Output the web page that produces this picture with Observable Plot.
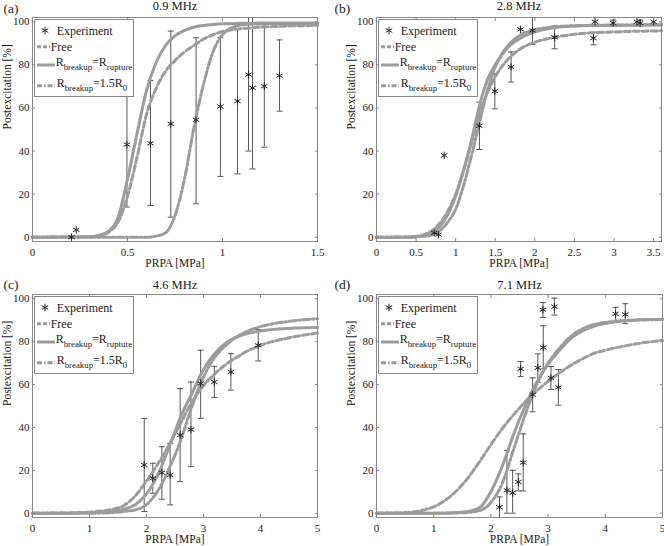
<!DOCTYPE html>
<html><head><meta charset="utf-8">
<script src="https://cdn.jsdelivr.net/npm/d3@7"></script>
<script src="https://cdn.jsdelivr.net/npm/@observablehq/plot@0.6"></script>
<style>
body{margin:0;background:#fff;}
#wrap{position:relative;width:664px;height:546px;display:grid;grid-template-columns:332px 332px;grid-template-rows:273px 273px;font-family:"Liberation Serif","Times New Roman",serif;}
.cell{position:relative;width:332px;height:273px;overflow:hidden;}
.cell > svg{display:block;}
.legend{position:absolute;}
</style></head><body><div id="wrap"></div>
<script>
// ---------- shared ----------
const yTicks = [0, 20, 40, 60, 80, 100];
const legendLabels = ["Experiment", "Free", "Rbreakup=Rrupture", "Rbreakup=1.5R0"];

// ---------- (a) 0.9 MHz ----------
const aXTicks = [0, 0.5, 1, 1.5];
const aCurveX   = [0, 0.3, 0.35, 0.4, 0.45, 0.5, 0.55, 0.6, 0.65, 0.7, 0.75, 0.8, 0.85, 0.9, 0.95, 1.0, 1.1, 1.2, 1.5];
const aFree     = [0, 0.2, 0.7, 2.3, 7, 19, 37, 57, 69, 77, 82, 86, 89, 92, 94, 95.5, 96.8, 97.5, 98.3];
const aRupture  = [0, 0.2, 0.8, 2.8, 9, 27, 48, 68, 81, 89, 93.5, 96, 97.5, 98.3, 98.8, 99.1, 99.3, 99.4, 99.5];
const aBreak15  = [0, 0, 0, 0, 0, 0, 0, 0, 0.5, 2, 10, 27, 51, 71, 86, 94, 98.5, 99, 99.2];
const aExpX  = [0.205, 0.23, 0.497, 0.621, 0.728, 0.861, 0.989, 1.079, 1.137, 1.158, 1.22, 1.3];
const aExpY  = [0, 3.4, 43, 43.6, 52.6, 54.5, 60.7, 63.2, 75.5, 69.3, 70.1, 75];
const aExpLo = [null, null, 14, 14.7, 9.3, 15.5, 28.2, 29.4, 40, 31.7, 41.8, 58.5];
const aExpHi = [null, null, 72, 72.8, 95.7, 92.6, 92.6, 96.7, 111, 107, 99, 91.6];

// ---------- (b) 2.8 MHz ----------
const bXTicks = [0, 0.5, 1, 1.5, 2, 2.5, 3, 3.5];
const bCurveX   = [0, 0.4, 0.5, 0.6, 0.7, 0.8, 0.9, 1.0, 1.1, 1.2, 1.3, 1.4, 1.5, 1.6, 1.7, 1.8, 2.0, 2.2, 2.5, 3.0, 3.6];
const bFree     = [0, 0.1, 0.4, 1.2, 3, 6.5, 12, 20, 31, 44, 57, 67, 74.5, 80, 84, 87, 90.5, 92.5, 94.2, 95.3, 95.8];
const bRupture  = [0, 0, 0.3, 0.8, 2.2, 5, 10.5, 19, 31, 45, 61, 73, 80, 85.5, 89.5, 92, 95.3, 97, 98, 98.4, 98.5];
const bBreak15  = [0, 0, 0.1, 0.4, 1, 3, 7, 13, 24, 38, 53, 68, 79, 86, 90.5, 93.5, 96.3, 97.5, 98.2, 98.5, 98.6];
const bExpX  = [0.729, 0.783, 0.855, 1.30, 1.495, 1.70, 1.82, 1.97, 2.25, 2.74, 2.76, 2.99, 3.29, 3.33, 3.5];
const bExpY  = [2, 1.2, 38, 51.7, 67.8, 79, 96.5, 96, 92.8, 92.4, 100, 99.4, 100, 99.4, 100];
const bExpLo = [null, null, null, 40.7, 59.6, 72, null, 89.5, 87.5, 89.3, null, 98, null, 98, null];
const bExpHi = [null, null, null, 62.7, 75.8, 86, null, 104, 98, 95.2, null, 100.8, null, 100.8, null];

// ---------- (c) 4.6 MHz ----------
const cXTicks = [0, 1, 2, 3, 4, 5];
const cCurveX   = [0, 0.5, 1.0, 1.2, 1.4, 1.6, 1.8, 2.0, 2.2, 2.4, 2.6, 2.8, 3.0, 3.2, 3.4, 3.6, 3.8, 4.0, 4.5, 5.0];
const cFree     = [0, 0.1, 0.5, 1, 1.8, 3.5, 8, 15, 23, 32, 42, 52, 59.5, 65, 69.5, 73, 76, 78.3, 81.8, 84];
const cRupture  = [0, 0, 0.2, 0.4, 0.9, 1.8, 4, 9, 18, 31, 45, 56, 67, 74.5, 79.5, 82.3, 84, 85, 86.2, 86.6];
const cBreak15  = [0, 0, 0, 0.1, 0.3, 0.8, 1.5, 4, 10.5, 21, 34, 50, 63.5, 72.8, 78.5, 82.5, 85.2, 87, 89.5, 90.7];
const cExpX  = [1.96, 2.11, 2.27, 2.415, 2.59, 2.78, 2.95, 3.19, 3.48, 3.96];
const cExpY  = [22.5, 16.3, 18.9, 17.8, 36.4, 39, 60.5, 61.2, 65.9, 78.3];
const cExpLo = [0.8, 9.3, 6.5, 3.9, 14.7, 21.7, 44.2, 54, 57.4, 71];
const cExpHi = [44.2, 23.3, 31, 32.6, 58.1, 61.2, 76, 68.5, 74.4, 85.6];

// ---------- (d) 7.1 MHz ----------
const dXTicks = [0, 1, 2, 3, 4, 5];
const dCurveX   = [0, 0.5, 1.0, 1.2, 1.4, 1.6, 1.8, 2.0, 2.2, 2.4, 2.6, 2.8, 3.0, 3.2, 3.4, 3.6, 3.8, 4.0, 4.5, 5.0];
const dFree     = [0, 0.3, 3, 6, 10.5, 16.5, 24, 32, 39.5, 46, 52, 57, 61.5, 65.5, 69, 72, 74.5, 76, 78.8, 80.6];
const dRupture  = [0, 0, 0, 0.1, 0.3, 0.8, 2.5, 10, 22, 37, 50, 61, 69.5, 76, 81.5, 85, 87.2, 88.5, 90, 90.4];
const dBreak15  = [0, 0, 0, 0, 0.1, 0.4, 1.2, 5, 14, 30, 46, 60, 70, 77, 82.5, 86, 88, 89, 90, 90.3];
const dExpX  = [2.15, 2.28, 2.38, 2.48, 2.565, 2.52, 2.73, 2.82, 2.91, 2.915, 3.05, 3.11, 3.18, 4.18, 4.35];
const dExpY  = [2.8, 10.7, 9.5, 14.6, 23.6, 67.3, 55.3, 67.8, 94.9, 77.3, 63.1, 96.3, 58.7, 93, 92.7];
const dExpLo = [-3, 0, 0, 10.4, 10.4, 63.7, 47.3, 61, 91.3, 67.3, 57.7, 92.4, 50.4, 89, 88.4];
const dExpHi = [7.6, 29.3, 20, 18.4, 37, 70.7, 63.1, 74.3, 98.3, 87.4, 68.4, 100.3, 67, 96, 97.7];

const panels = [
  {tag: "(a)", title: "0.9 MHz", xMax: 1.5, xTicks: aXTicks, cx: aCurveX, free: aFree, rupture: aRupture, b15: aBreak15,
   ex: aExpX, ey: aExpY, lo: aExpLo, hi: aExpHi, m: [17, 15, 32, 32], tagDx: -29, tagDy: -9, titleDy: -11.5},
  {tag: "(b)", title: "2.8 MHz", xMax: 3.6, xTicks: bXTicks, cx: bCurveX, free: bFree, rupture: bRupture, b15: bBreak15,
   ex: bExpX, ey: bExpY, lo: bExpLo, hi: bExpHi, m: [17, 3, 32, 44], tagDx: -42, tagDy: -9, titleDy: -11.5},
  {tag: "(c)", title: "4.6 MHz", xMax: 5, xTicks: cXTicks, cx: cCurveX, free: cFree, rupture: cRupture, b15: cBreak15,
   ex: cExpX, ey: cExpY, lo: cExpLo, hi: cExpHi, m: [21, 15, 29, 32], tagDx: -29, tagDy: -10, titleDy: -9.5},
  {tag: "(d)", title: "7.1 MHz", xMax: 5, xTicks: dXTicks, cx: dCurveX, free: dFree, rupture: dRupture, b15: dBreak15,
   ex: dExpX, ey: dExpY, lo: dExpLo, hi: dExpHi, m: [21, 2, 29, 44], tagDx: -42, tagDy: -10, titleDy: -9.5}
];

const serif = '"Liberation Serif", "Times New Roman", serif';
const textColor = "#1a1a1a";
const curveColor = "#9c9c9c";
const frameColor = "#888";
const barColor = "#444";
const capSymbol = {draw(ctx) { ctx.moveTo(-3, 0); ctx.lineTo(3, 0); }};
const fmt = d => String(d);
const blank = () => "";

function makePanel(p) {
  const line = arr => p.cx.map((x, i) => ({x, y: arr[i]}));
  const pts = p.ex.map((x, i) => ({x, y: p.ey[i], lo: p.lo[i], hi: p.hi[i]}));
  const bars = pts.filter(d => d.lo != null);
  const [mt, mr, mb, ml] = p.m;
  const axisStroke = {stroke: frameColor, label: null, tickFormat: blank, tickSize: 3};
  return Plot.plot({
    width: 332, height: 273,
    marginTop: mt, marginRight: mr, marginBottom: mb, marginLeft: ml,
    style: {fontFamily: serif, fontSize: "11px", color: textColor, background: "transparent", overflow: "visible"},
    x: {domain: [0, p.xMax]},
    y: {domain: [-2, 102]},
    marks: [
      Plot.ruleX(bars, {x: "x", y1: "lo", y2: "hi", stroke: barColor, strokeWidth: 0.9, clip: true}),
      Plot.dot(bars, {x: "x", y: "lo", symbol: capSymbol, fill: "none", stroke: barColor, strokeWidth: 0.9, clip: true}),
      Plot.dot(bars, {x: "x", y: "hi", symbol: capSymbol, fill: "none", stroke: barColor, strokeWidth: 0.9, clip: true}),
      Plot.line(line(p.free), {x: "x", y: "y", stroke: curveColor, strokeWidth: 3, strokeDasharray: "6,3", curve: "monotone-x"}),
      Plot.line(line(p.b15), {x: "x", y: "y", stroke: curveColor, strokeWidth: 3, strokeDasharray: "7,2.5,2,2.5", curve: "monotone-x"}),
      Plot.line(line(p.rupture), {x: "x", y: "y", stroke: curveColor, strokeWidth: 3, curve: "monotone-x"}),
      Plot.dot(pts, {x: "x", y: "y", symbol: "asterisk", r: 3.5, stroke: "#222", strokeWidth: 1}),
      Plot.frame({stroke: frameColor}),
      Plot.axisX({ticks: p.xTicks, anchor: "bottom", ...axisStroke, dy: -3}),
      Plot.axisX({ticks: p.xTicks, anchor: "top", ...axisStroke, dy: 3}),
      Plot.axisY({ticks: yTicks, anchor: "left", ...axisStroke, dx: 3}),
      Plot.axisY({ticks: yTicks, anchor: "right", ...axisStroke, dx: -3}),
      Plot.axisX({ticks: p.xTicks, anchor: "bottom", tickSize: 0, tickPadding: 7, tickFormat: fmt, label: null, fontSize: 11, fontFamily: serif, fill: textColor}),
      Plot.axisY({ticks: yTicks, anchor: "left", tickSize: 0, tickPadding: 3, tickFormat: fmt, label: null, fontSize: 11, fontFamily: serif, fill: textColor}),
      Plot.text(["PRPA [MPa]"], {frameAnchor: "bottom", dy: 22, fontSize: 11.5, lineAnchor: "middle", fontFamily: serif, fill: textColor}),
      Plot.text(["Postexcitation [%]"], {frameAnchor: "left", dx: -25.5, rotate: -90, fontSize: 11.5, lineAnchor: "middle", fontFamily: serif, fill: textColor}),
      Plot.text([p.title], {frameAnchor: "top", dy: p.titleDy, fontSize: 12.5, lineAnchor: "middle", fontFamily: serif, fill: textColor}),
      Plot.text([p.tag], {frameAnchor: "top-left", dx: p.tagDx, dy: p.tagDy, fontSize: 13.5, textAnchor: "start", lineAnchor: "middle", fontFamily: serif, fill: textColor})
    ]
  });
}

function makeLegend(p) {
  const svg = d3.create("svg").attr("class", "legend")
    .attr("width", 100).attr("height", 78)
    .style("left", (p.m[3] + 2) + "px").style("top", (p.m[0] + 2) + "px")
    .attr("font-family", serif).attr("font-size", 12);
  svg.append("rect").attr("x", 0.5).attr("y", 0.5).attr("width", 99).attr("height", 77)
    .attr("fill", "#fff").attr("stroke", frameColor);
  // row 1: experiment marker
  svg.append("path").attr("d", d3.symbol(d3.symbolAsterisk, Math.PI * 3.5 * 3.5)()).attr("transform", "translate(11,11.5)")
    .attr("fill", "none").attr("stroke", "#222").attr("stroke-width", 1);
  svg.append("text").attr("x", 22.7).attr("y", 16).attr("fill", textColor).text(legendLabels[0]);
  // row 2: Free
  svg.append("line").attr("x1", 3).attr("x2", 16).attr("y1", 27.7).attr("y2", 27.7)
    .attr("stroke", curveColor).attr("stroke-width", 3).attr("stroke-dasharray", "4,2");
  svg.append("text").attr("x", 16.7).attr("y", 31.7).attr("fill", textColor).text(legendLabels[1]);
  // row 3
  svg.append("line").attr("x1", 3).attr("x2", 21).attr("y1", 46).attr("y2", 46)
    .attr("stroke", curveColor).attr("stroke-width", 3);
  const t3 = svg.append("text").attr("x", 21.7).attr("y", 46.7).attr("fill", textColor);
  t3.append("tspan").text("R");
  t3.append("tspan").attr("dy", 4.3).attr("font-size", 8.8).text("breakup");
  t3.append("tspan").attr("dy", -4.3).text("=R");
  t3.append("tspan").attr("dy", 4.3).attr("font-size", 8.8).text("rupture");
  // row 4
  svg.append("line").attr("x1", 3).attr("x2", 21).attr("y1", 66.7).attr("y2", 66.7)
    .attr("stroke", curveColor).attr("stroke-width", 3).attr("stroke-dasharray", "5,2,1.5,2");
  const t4 = svg.append("text").attr("x", 22.7).attr("y", 68.3).attr("fill", textColor);
  t4.append("tspan").text("R");
  t4.append("tspan").attr("dy", 4).attr("font-size", 8.8).text("breakup");
  t4.append("tspan").attr("dy", -4).text("=1.5R");
  t4.append("tspan").attr("dy", 4).attr("font-size", 8.8).text("0");
  return svg.node();
}

const wrap = document.getElementById("wrap");
for (const p of panels) {
  const cell = document.createElement("div");
  cell.className = "cell";
  cell.appendChild(makePanel(p));
  cell.appendChild(makeLegend(p));
  wrap.appendChild(cell);
}
</script></body></html>
